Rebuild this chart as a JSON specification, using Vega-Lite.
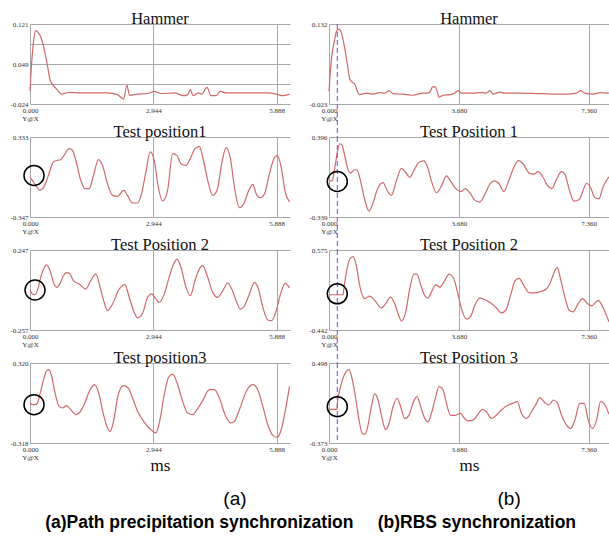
{
  "$schema": "https://vega.github.io/schema/vega-lite/v6.json",
  "padding": {"left": 9, "top": 10, "right": 0, "bottom": 2},
  "background": "white",
  "config": {
    "view": {"stroke": null},
    "axis": {"grid": true, "gridColor": "#a8a8a8", "gridWidth": 1, "domain": false, "ticks": false, "labelFont": "Liberation Serif", "labelFontSize": 7, "labelColor": "#333333", "labelPadding": 2, "labelLineHeight": 8, "title": null, "labelOverlap": false},
    "title": {"font": "Liberation Serif", "fontSize": 16.5, "fontWeight": "normal", "color": "#111111", "offset": -7},
    "line": {"color": "#d06a6a", "strokeWidth": 1.2, "interpolate": "monotone"}
  },
  "datasets": {
    "L1": [{"t":0,"v":0.000},{"t":0.032,"v":0.043},{"t":0.072,"v":0.080},{"t":0.136,"v":0.109},{"t":0.191,"v":0.106},{"t":0.255,"v":0.098},{"t":0.335,"v":0.077},{"t":0.415,"v":0.046},{"t":0.479,"v":0.020},{"t":0.558,"v":0.0096},{"t":0.654,"v":0.0016},{"t":0.750,"v":-0.006},{"t":0.933,"v":-0.003},{"t":1.213,"v":-0.004},{"t":1.532,"v":-0.004},{"t":1.851,"v":-0.004},{"t":2.090,"v":-0.007},{"t":2.234,"v":-0.015},{"t":2.314,"v":0.010},{"t":2.377,"v":-0.008},{"t":2.569,"v":-0.006},{"t":2.808,"v":-0.005},{"t":2.968,"v":-0.001},{"t":3.127,"v":-0.005},{"t":3.447,"v":-0.004},{"t":3.670,"v":-0.009},{"t":3.766,"v":-0.007},{"t":3.829,"v":0.002},{"t":3.893,"v":-0.009},{"t":4.021,"v":-0.004},{"t":4.101,"v":-0.006},{"t":4.228,"v":0.006},{"t":4.324,"v":-0.009},{"t":4.444,"v":-0.009},{"t":4.547,"v":-0.001},{"t":4.683,"v":-0.004},{"t":5.042,"v":-0.004},{"t":5.441,"v":-0.004},{"t":5.680,"v":-0.004},{"t":5.880,"v":-0.006},{"t":6.039,"v":-0.009},{"t":6.199,"v":-0.006}],
    "L2": [{"t":0,"v":-0.007},{"t":0.056,"v":-0.035},{"t":0.136,"v":-0.078},{"t":0.239,"v":-0.120},{"t":0.319,"v":-0.098},{"t":0.399,"v":-0.035},{"t":0.479,"v":0.050},{"t":0.558,"v":0.121},{"t":0.654,"v":0.135},{"t":0.734,"v":0.140},{"t":0.814,"v":0.177},{"t":0.933,"v":0.234},{"t":1.013,"v":0.220},{"t":1.093,"v":0.135},{"t":1.213,"v":-0.035},{"t":1.309,"v":-0.106},{"t":1.412,"v":-0.106},{"t":1.516,"v":0.007},{"t":1.636,"v":0.140},{"t":1.731,"v":0.092},{"t":1.851,"v":-0.064},{"t":1.971,"v":-0.163},{"t":2.090,"v":-0.171},{"t":2.234,"v":-0.120},{"t":2.329,"v":-0.163},{"t":2.449,"v":-0.228},{"t":2.569,"v":-0.228},{"t":2.665,"v":-0.149},{"t":2.768,"v":0.036},{"t":2.872,"v":0.206},{"t":2.968,"v":0.135},{"t":3.064,"v":-0.092},{"t":3.167,"v":-0.211},{"t":3.287,"v":-0.120},{"t":3.407,"v":0.191},{"t":3.510,"v":0.177},{"t":3.606,"v":0.106},{"t":3.726,"v":0.092},{"t":3.845,"v":0.163},{"t":3.941,"v":0.234},{"t":4.045,"v":0.254},{"t":4.125,"v":0.163},{"t":4.244,"v":-0.035},{"t":4.364,"v":-0.163},{"t":4.468,"v":-0.120},{"t":4.579,"v":0.106},{"t":4.683,"v":0.242},{"t":4.787,"v":0.149},{"t":4.883,"v":-0.092},{"t":5.002,"v":-0.268},{"t":5.106,"v":-0.234},{"t":5.226,"v":-0.120},{"t":5.321,"v":-0.069},{"t":5.401,"v":-0.149},{"t":5.505,"v":-0.183},{"t":5.601,"v":-0.149},{"t":5.721,"v":0.021},{"t":5.824,"v":0.149},{"t":5.904,"v":0.177},{"t":5.999,"v":0.078},{"t":6.095,"v":-0.134},{"t":6.199,"v":-0.219}],
    "L3": [{"t":0,"v":-0.005},{"t":0.056,"v":-0.030},{"t":0.112,"v":-0.034},{"t":0.176,"v":-0.009},{"t":0.255,"v":0.075},{"t":0.335,"v":0.134},{"t":0.399,"v":0.153},{"t":0.479,"v":0.117},{"t":0.574,"v":0.033},{"t":0.638,"v":0.012},{"t":0.718,"v":0.037},{"t":0.798,"v":0.085},{"t":0.878,"v":0.104},{"t":0.957,"v":0.096},{"t":1.037,"v":0.054},{"t":1.173,"v":0.033},{"t":1.332,"v":0.001},{"t":1.452,"v":0.054},{"t":1.572,"v":0.096},{"t":1.675,"v":0.012},{"t":1.771,"v":-0.083},{"t":1.851,"v":-0.135},{"t":1.971,"v":-0.093},{"t":2.130,"v":0.001},{"t":2.266,"v":0.029},{"t":2.370,"v":-0.051},{"t":2.473,"v":-0.135},{"t":2.569,"v":-0.181},{"t":2.689,"v":-0.152},{"t":2.808,"v":-0.051},{"t":2.904,"v":-0.030},{"t":3.008,"v":-0.062},{"t":3.088,"v":-0.083},{"t":3.207,"v":-0.030},{"t":3.327,"v":0.079},{"t":3.431,"v":0.159},{"t":3.510,"v":0.190},{"t":3.606,"v":0.138},{"t":3.726,"v":0.012},{"t":3.829,"v":-0.041},{"t":3.941,"v":0.054},{"t":4.045,"v":0.127},{"t":4.125,"v":0.148},{"t":4.244,"v":0.075},{"t":4.364,"v":-0.020},{"t":4.484,"v":-0.051},{"t":4.603,"v":-0.009},{"t":4.723,"v":0.039},{"t":4.819,"v":0.001},{"t":4.922,"v":-0.072},{"t":5.026,"v":-0.125},{"t":5.122,"v":-0.104},{"t":5.241,"v":-0.030},{"t":5.361,"v":0.043},{"t":5.457,"v":0.001},{"t":5.561,"v":-0.114},{"t":5.681,"v":-0.194},{"t":5.776,"v":-0.198},{"t":5.880,"v":-0.135},{"t":5.984,"v":-0.030},{"t":6.095,"v":0.037},{"t":6.199,"v":0.008}],
    "L4": [{"t":0,"v":0.001},{"t":0.056,"v":-0.012},{"t":0.112,"v":-0.012},{"t":0.176,"v":0.001},{"t":0.255,"v":0.094},{"t":0.335,"v":0.200},{"t":0.399,"v":0.259},{"t":0.455,"v":0.267},{"t":0.511,"v":0.222},{"t":0.590,"v":0.094},{"t":0.694,"v":-0.026},{"t":0.774,"v":-0.039},{"t":0.878,"v":-0.020},{"t":0.973,"v":-0.052},{"t":1.093,"v":-0.092},{"t":1.173,"v":-0.079},{"t":1.292,"v":-0.012},{"t":1.436,"v":0.107},{"t":1.548,"v":0.147},{"t":1.651,"v":0.067},{"t":1.755,"v":-0.092},{"t":1.851,"v":-0.198},{"t":1.915,"v":-0.225},{"t":1.995,"v":-0.145},{"t":2.106,"v":0.067},{"t":2.234,"v":0.139},{"t":2.346,"v":0.121},{"t":2.449,"v":0.041},{"t":2.569,"v":-0.065},{"t":2.713,"v":-0.145},{"t":2.888,"v":-0.212},{"t":3.008,"v":-0.238},{"t":3.088,"v":-0.158},{"t":3.207,"v":0.067},{"t":3.311,"v":0.206},{"t":3.407,"v":0.232},{"t":3.526,"v":0.147},{"t":3.646,"v":0.014},{"t":3.766,"v":-0.079},{"t":3.885,"v":-0.092},{"t":4.005,"v":-0.044},{"t":4.125,"v":0.020},{"t":4.284,"v":0.107},{"t":4.404,"v":0.107},{"t":4.523,"v":0.041},{"t":4.659,"v":-0.092},{"t":4.803,"v":-0.158},{"t":4.883,"v":-0.145},{"t":5.002,"v":-0.052},{"t":5.186,"v":0.107},{"t":5.322,"v":0.147},{"t":5.441,"v":0.107},{"t":5.561,"v":-0.026},{"t":5.681,"v":-0.172},{"t":5.800,"v":-0.257},{"t":5.904,"v":-0.273},{"t":6.000,"v":-0.212},{"t":6.095,"v":-0.065},{"t":6.199,"v":0.134}],
    "R1": [{"t":0,"v":0.0015},{"t":0.038,"v":0.040},{"t":0.095,"v":0.079},{"t":0.151,"v":0.098},{"t":0.208,"v":0.117},{"t":0.265,"v":0.122},{"t":0.322,"v":0.120},{"t":0.378,"v":0.108},{"t":0.454,"v":0.082},{"t":0.530,"v":0.050},{"t":0.587,"v":0.026},{"t":0.662,"v":0.019},{"t":0.728,"v":0.016},{"t":0.804,"v":0.0015},{"t":0.870,"v":-0.005},{"t":1.060,"v":-0.002},{"t":1.249,"v":-0.004},{"t":1.438,"v":-0.001},{"t":1.580,"v":-0.002},{"t":1.703,"v":0.003},{"t":1.816,"v":-0.003},{"t":2.100,"v":-0.004},{"t":2.384,"v":-0.006},{"t":2.668,"v":-0.002},{"t":2.810,"v":-0.002},{"t":2.876,"v":0.002},{"t":2.933,"v":0.010},{"t":3.008,"v":0.010},{"t":3.065,"v":0.002},{"t":3.122,"v":-0.010},{"t":3.235,"v":-0.006},{"t":3.425,"v":-0.005},{"t":3.566,"v":-0.002},{"t":3.661,"v":0.003},{"t":3.756,"v":-0.002},{"t":4.087,"v":-0.002},{"t":4.323,"v":-0.001},{"t":4.465,"v":-0.002},{"t":4.560,"v":0.003},{"t":4.654,"v":-0.004},{"t":4.844,"v":0.000},{"t":4.985,"v":-0.002},{"t":5.411,"v":-0.002},{"t":5.979,"v":-0.003},{"t":6.736,"v":-0.004},{"t":7.019,"v":-0.002},{"t":7.133,"v":0.003},{"t":7.256,"v":-0.002},{"t":7.492,"v":-0.004},{"t":7.681,"v":-0.001},{"t":7.937,"v":-0.002}],
    "R2": [{"t":0.019,"v":-0.007},{"t":0.095,"v":-0.007},{"t":0.132,"v":0.055},{"t":0.189,"v":0.163},{"t":0.246,"v":0.272},{"t":0.303,"v":0.334},{"t":0.359,"v":0.328},{"t":0.435,"v":0.241},{"t":0.520,"v":0.117},{"t":0.605,"v":0.064},{"t":0.728,"v":0.095},{"t":0.795,"v":0.095},{"t":0.870,"v":0.024},{"t":1.012,"v":-0.178},{"t":1.135,"v":-0.286},{"t":1.249,"v":-0.209},{"t":1.372,"v":-0.085},{"t":1.532,"v":-0.023},{"t":1.655,"v":-0.100},{"t":1.769,"v":-0.140},{"t":1.911,"v":-0.007},{"t":2.053,"v":0.108},{"t":2.176,"v":0.070},{"t":2.289,"v":0.024},{"t":2.403,"v":0.086},{"t":2.554,"v":0.163},{"t":2.687,"v":0.176},{"t":2.781,"v":0.132},{"t":2.904,"v":-0.007},{"t":3.046,"v":-0.116},{"t":3.188,"v":-0.054},{"t":3.330,"v":0.039},{"t":3.443,"v":-0.007},{"t":3.595,"v":-0.078},{"t":3.737,"v":-0.106},{"t":3.869,"v":-0.078},{"t":3.992,"v":-0.116},{"t":4.134,"v":-0.184},{"t":4.276,"v":-0.202},{"t":4.418,"v":-0.131},{"t":4.560,"v":-0.038},{"t":4.683,"v":-0.007},{"t":4.815,"v":-0.029},{"t":4.957,"v":-0.106},{"t":5.080,"v":-0.023},{"t":5.222,"v":0.101},{"t":5.373,"v":0.179},{"t":5.505,"v":0.148},{"t":5.676,"v":0.064},{"t":5.808,"v":0.055},{"t":5.931,"v":0.077},{"t":6.073,"v":0.024},{"t":6.187,"v":-0.047},{"t":6.319,"v":-0.078},{"t":6.452,"v":0.008},{"t":6.594,"v":0.077},{"t":6.688,"v":0.055},{"t":6.811,"v":-0.085},{"t":6.944,"v":-0.193},{"t":7.095,"v":-0.178},{"t":7.209,"v":-0.091},{"t":7.303,"v":-0.029},{"t":7.417,"v":-0.069},{"t":7.540,"v":-0.162},{"t":7.653,"v":-0.171},{"t":7.776,"v":-0.060},{"t":7.937,"v":0.030}],
    "R3": [{"t":0,"v":0.006},{"t":0.397,"v":0.006},{"t":0.416,"v":0.060},{"t":0.492,"v":0.290},{"t":0.587,"v":0.458},{"t":0.681,"v":0.491},{"t":0.776,"v":0.374},{"t":0.870,"v":0.123},{"t":1.012,"v":-0.044},{"t":1.154,"v":-0.011},{"t":1.296,"v":-0.065},{"t":1.485,"v":-0.162},{"t":1.608,"v":-0.107},{"t":1.741,"v":-0.023},{"t":1.864,"v":-0.107},{"t":1.958,"v":-0.233},{"t":2.053,"v":-0.329},{"t":2.176,"v":-0.212},{"t":2.289,"v":0.081},{"t":2.412,"v":0.269},{"t":2.497,"v":0.269},{"t":2.592,"v":0.144},{"t":2.715,"v":-0.003},{"t":2.809,"v":-0.036},{"t":2.904,"v":0.039},{"t":3.027,"v":0.131},{"t":3.140,"v":0.102},{"t":3.254,"v":0.165},{"t":3.406,"v":0.269},{"t":3.519,"v":0.228},{"t":3.633,"v":0.060},{"t":3.756,"v":-0.170},{"t":3.898,"v":-0.304},{"t":4.011,"v":-0.275},{"t":4.134,"v":-0.128},{"t":4.276,"v":-0.036},{"t":4.418,"v":-0.057},{"t":4.579,"v":-0.095},{"t":4.749,"v":-0.162},{"t":4.891,"v":-0.224},{"t":5.014,"v":-0.191},{"t":5.146,"v":-0.003},{"t":5.279,"v":0.186},{"t":5.392,"v":0.215},{"t":5.525,"v":0.123},{"t":5.676,"v":0.031},{"t":5.837,"v":0.031},{"t":5.998,"v":0.048},{"t":6.149,"v":0.073},{"t":6.281,"v":0.165},{"t":6.404,"v":0.311},{"t":6.470,"v":0.353},{"t":6.565,"v":0.207},{"t":6.688,"v":-0.023},{"t":6.811,"v":-0.191},{"t":6.925,"v":-0.212},{"t":7.048,"v":-0.120},{"t":7.190,"v":-0.044},{"t":7.303,"v":-0.095},{"t":7.445,"v":-0.136},{"t":7.634,"v":-0.065},{"t":7.776,"v":-0.162},{"t":7.937,"v":-0.337}],
    "R4": [{"t":0,"v":-0.007},{"t":0.227,"v":-0.007},{"t":0.246,"v":0.095},{"t":0.303,"v":0.198},{"t":0.397,"v":0.333},{"t":0.492,"v":0.407},{"t":0.568,"v":0.425},{"t":0.662,"v":0.315},{"t":0.757,"v":0.114},{"t":0.851,"v":-0.124},{"t":0.946,"v":-0.271},{"t":1.022,"v":-0.278},{"t":1.107,"v":-0.179},{"t":1.201,"v":0.022},{"t":1.296,"v":0.161},{"t":1.391,"v":0.095},{"t":1.485,"v":-0.069},{"t":1.608,"v":-0.227},{"t":1.703,"v":-0.161},{"t":1.816,"v":0.022},{"t":1.930,"v":0.114},{"t":2.034,"v":0.022},{"t":2.147,"v":-0.106},{"t":2.270,"v":-0.069},{"t":2.384,"v":0.066},{"t":2.497,"v":0.132},{"t":2.601,"v":0.022},{"t":2.715,"v":-0.106},{"t":2.809,"v":-0.143},{"t":2.904,"v":-0.051},{"t":3.027,"v":0.132},{"t":3.122,"v":0.242},{"t":3.235,"v":0.205},{"t":3.330,"v":0.059},{"t":3.443,"v":-0.069},{"t":3.566,"v":-0.073},{"t":3.727,"v":-0.051},{"t":3.822,"v":-0.095},{"t":3.945,"v":-0.132},{"t":4.087,"v":-0.124},{"t":4.200,"v":-0.073},{"t":4.352,"v":-0.007},{"t":4.465,"v":-0.033},{"t":4.607,"v":-0.106},{"t":4.749,"v":-0.069},{"t":4.891,"v":-0.014},{"t":5.033,"v":0.030},{"t":5.203,"v":0.059},{"t":5.335,"v":0.077},{"t":5.458,"v":-0.051},{"t":5.600,"v":-0.106},{"t":5.742,"v":-0.033},{"t":5.884,"v":0.059},{"t":5.979,"v":0.121},{"t":6.120,"v":0.066},{"t":6.243,"v":0.041},{"t":6.357,"v":0.095},{"t":6.471,"v":0.066},{"t":6.594,"v":-0.069},{"t":6.736,"v":-0.179},{"t":6.849,"v":-0.216},{"t":6.972,"v":-0.124},{"t":7.114,"v":0.059},{"t":7.237,"v":0.059},{"t":7.351,"v":-0.124},{"t":7.474,"v":-0.216},{"t":7.587,"v":-0.124},{"t":7.700,"v":0.077},{"t":7.795,"v":0.059},{"t":7.937,"v":-0.058}],
    "CL2": [{"t":0.096,"v":0.006}],
    "CL3": [{"t":0.12,"v":-0.005}],
    "CL4": [{"t":0.096,"v":-0.012}],
    "CR2": [{"t":0.235,"v":-0.013}],
    "CR3": [{"t":0.235,"v":0.018}],
    "CR4": [{"t":0.235,"v":0.022}],
    "S1": [{"t":0.236,"top":0.132,"bottom":-0.087}],
    "S2": [{"t":0.236,"top":0.396,"bottom":-0.642}],
    "S3": [{"t":0.236,"top":0.575,"bottom":-0.861}],
    "S4": [{"t":0.236,"top":0.498,"bottom":-0.373}]
  },
  "title": {"text": "(a)Path precipitation synchronization\u00a0\u00a0\u00a0\u00a0\u00a0(b)RBS synchronization", "orient": "bottom", "anchor": "middle", "font": "Liberation Sans", "fontSize": 17.5, "fontWeight": "bold", "color": "#000000", "offset": 5},
  "bounds": "full",
  "spacing": 16,
  "hconcat": [
    {
      "bounds": "flush",
      "spacing": 33,
      "title": {"text": "(a)", "orient": "bottom", "anchor": "middle", "dx": 84, "font": "Liberation Sans", "fontSize": 19, "fontWeight": "normal", "color": "#000000", "offset": 17},
      "vconcat": [
        {
          "title": "Hammer", "width": 260, "height": 80,
          "layer": [
            {"data": {"name": "L1"}, "mark": "line",
             "encoding": {
               "x": {"field": "t", "type": "quantitative", "scale": {"domain": [0, 6.21], "nice": false}, "axis": {"values": [0, 2.944, 5.888], "labelFlush": false, "labelExpr": "datum.value == 0 ? ['0.000','Y@X'] : format(datum.value, '.3f')"}},
               "y": {"field": "v", "type": "quantitative", "scale": {"domain": [-0.024, 0.121], "nice": false, "zero": false}, "axis": {"values": [-0.024, 0.01225, 0.0485, 0.08475, 0.121], "labelExpr": "datum.index == 0 ? '-0.024' : datum.index == 0.5 ? '0.049' : datum.index == 1 ? '0.121' : ''"}}
             }}
          ]
        },
        {
          "title": "Test position1", "width": 260, "height": 80,
          "layer": [
            {"data": {"name": "L2"}, "mark": "line",
             "encoding": {
               "x": {"field": "t", "type": "quantitative", "scale": {"domain": [0, 6.21], "nice": false}, "axis": {"values": [0, 2.944, 5.888], "labelFlush": false, "labelExpr": "datum.value == 0 ? ['0.000','Y@X'] : format(datum.value, '.3f')"}},
               "y": {"field": "v", "type": "quantitative", "scale": {"domain": [-0.347, 0.333], "nice": false, "zero": false}, "axis": {"values": [-0.347, -0.177, -0.007, 0.163, 0.333], "labelExpr": "datum.index == 0 ? '-0.347' : datum.index == 0.5 ? '-0.007' : datum.index == 1 ? '0.333' : ''"}}
             }},
            {"data": {"name": "CL2"}, "mark": {"type": "point", "shape": "circle", "size": 400, "filled": false, "stroke": "#000000", "strokeWidth": 1.5, "opacity": 1},
             "encoding": {"x": {"field": "t", "type": "quantitative"}, "y": {"field": "v", "type": "quantitative"}}}
          ]
        },
        {
          "title": "Test Position 2", "width": 260, "height": 80,
          "layer": [
            {"data": {"name": "L3"}, "mark": "line",
             "encoding": {
               "x": {"field": "t", "type": "quantitative", "scale": {"domain": [0, 6.21], "nice": false}, "axis": {"values": [0, 2.944, 5.888], "labelFlush": false, "labelExpr": "datum.value == 0 ? ['0.000','Y@X'] : format(datum.value, '.3f')"}},
               "y": {"field": "v", "type": "quantitative", "scale": {"domain": [-0.257, 0.247], "nice": false, "zero": false}, "axis": {"values": [-0.257, -0.131, -0.005, 0.121, 0.247], "labelExpr": "datum.index == 0 ? '-0.257' : datum.index == 0.5 ? '-0.005' : datum.index == 1 ? '0.247' : ''"}}
             }},
            {"data": {"name": "CL3"}, "mark": {"type": "point", "shape": "circle", "size": 400, "filled": false, "stroke": "#000000", "strokeWidth": 1.5, "opacity": 1},
             "encoding": {"x": {"field": "t", "type": "quantitative"}, "y": {"field": "v", "type": "quantitative"}}}
          ]
        },
        {
          "title": "Test position3", "width": 260, "height": 80,
          "layer": [
            {"data": {"name": "L4"}, "mark": "line",
             "encoding": {
               "x": {"field": "t", "type": "quantitative", "scale": {"domain": [0, 6.21], "nice": false}, "axis": {"values": [0, 2.944, 5.888], "labelFlush": false, "labelExpr": "datum.value == 0 ? ['0.000','Y@X'] : format(datum.value, '.3f')", "title": "ms", "titleFont": "Liberation Serif", "titleFontSize": 17, "titleFontWeight": "normal", "titleColor": "#111111", "titlePadding": -3}},
               "y": {"field": "v", "type": "quantitative", "scale": {"domain": [-0.318, 0.320], "nice": false, "zero": false}, "axis": {"values": [-0.318, -0.1585, 0.001, 0.1605, 0.320], "labelExpr": "datum.index == 0 ? '-0.318' : datum.index == 0.5 ? '0.001' : datum.index == 1 ? '0.320' : ''"}}
             }},
            {"data": {"name": "CL4"}, "mark": {"type": "point", "shape": "circle", "size": 400, "filled": false, "stroke": "#000000", "strokeWidth": 1.5, "opacity": 1},
             "encoding": {"x": {"field": "t", "type": "quantitative"}, "y": {"field": "v", "type": "quantitative"}}}
          ]
        }
      ]
    },
    {
      "bounds": "flush",
      "spacing": 33,
      "title": {"text": "(b)", "orient": "bottom", "anchor": "middle", "dx": 49, "font": "Liberation Sans", "fontSize": 19, "fontWeight": "normal", "color": "#000000", "offset": 17},
      "vconcat": [
        {
          "title": "Hammer", "width": 280, "height": 80,
          "layer": [
            {"data": {"name": "R1"}, "mark": "line",
             "encoding": {
               "x": {"field": "t", "type": "quantitative", "scale": {"domain": [0, 7.94], "nice": false}, "axis": {"values": [0, 3.68, 7.36], "labelFlush": false, "labelExpr": "datum.value == 0 ? ['0.000','Y@X'] : format(datum.value, '.3f')"}},
               "y": {"field": "v", "type": "quantitative", "scale": {"domain": [-0.023, 0.132], "nice": false, "zero": false}, "axis": {"values": [-0.023, 0.01575, 0.0545, 0.09325, 0.132], "labelExpr": "datum.index == 0 ? '-0.023' : datum.index == 0.5 ? '0.055' : datum.index == 1 ? '0.132' : ''"}}
             }},
            {"data": {"name": "S1"}, "mark": {"type": "rule", "color": "#8259d6", "strokeDash": [5, 3], "strokeWidth": 1.1},
             "encoding": {"x": {"field": "t", "type": "quantitative"}, "y": {"field": "top", "type": "quantitative"}, "y2": {"field": "bottom"}}}
          ]
        },
        {
          "title": "Test Position 1", "width": 280, "height": 80,
          "layer": [
            {"data": {"name": "R2"}, "mark": "line",
             "encoding": {
               "x": {"field": "t", "type": "quantitative", "scale": {"domain": [0, 7.94], "nice": false}, "axis": {"values": [0, 3.68, 7.36], "labelFlush": false, "labelExpr": "datum.value == 0 ? ['0.000','Y@X'] : format(datum.value, '.3f')"}},
               "y": {"field": "v", "type": "quantitative", "scale": {"domain": [-0.339, 0.396], "nice": false, "zero": false}, "axis": {"values": [-0.339, -0.15525, 0.0285, 0.21225, 0.396], "labelExpr": "datum.index == 0 ? '-0.339' : datum.index == 0.5 ? '0.029' : datum.index == 1 ? '0.396' : ''"}}
             }},
            {"data": {"name": "S2"}, "mark": {"type": "rule", "color": "#8259d6", "strokeDash": [5, 3], "strokeWidth": 1.1},
             "encoding": {"x": {"field": "t", "type": "quantitative"}, "y": {"field": "top", "type": "quantitative"}, "y2": {"field": "bottom"}}},
            {"data": {"name": "CR2"}, "mark": {"type": "point", "shape": "circle", "size": 400, "filled": false, "stroke": "#000000", "strokeWidth": 1.5, "opacity": 1},
             "encoding": {"x": {"field": "t", "type": "quantitative"}, "y": {"field": "v", "type": "quantitative"}}}
          ]
        },
        {
          "title": "Test Position 2", "width": 280, "height": 80,
          "layer": [
            {"data": {"name": "R3"}, "mark": "line",
             "encoding": {
               "x": {"field": "t", "type": "quantitative", "scale": {"domain": [0, 7.94], "nice": false}, "axis": {"values": [0, 3.68, 7.36], "labelFlush": false, "labelExpr": "datum.value == 0 ? ['0.000','Y@X'] : format(datum.value, '.3f')"}},
               "y": {"field": "v", "type": "quantitative", "scale": {"domain": [-0.442, 0.575], "nice": false, "zero": false}, "axis": {"values": [-0.442, -0.18775, 0.0665, 0.32075, 0.575], "labelExpr": "datum.index == 0 ? '-0.442' : datum.index == 0.5 ? '0.066' : datum.index == 1 ? '0.575' : ''"}}
             }},
            {"data": {"name": "S3"}, "mark": {"type": "rule", "color": "#8259d6", "strokeDash": [5, 3], "strokeWidth": 1.1},
             "encoding": {"x": {"field": "t", "type": "quantitative"}, "y": {"field": "top", "type": "quantitative"}, "y2": {"field": "bottom"}}},
            {"data": {"name": "CR3"}, "mark": {"type": "point", "shape": "circle", "size": 400, "filled": false, "stroke": "#000000", "strokeWidth": 1.5, "opacity": 1},
             "encoding": {"x": {"field": "t", "type": "quantitative"}, "y": {"field": "v", "type": "quantitative"}}}
          ]
        },
        {
          "title": "Test Position 3", "width": 280, "height": 80,
          "layer": [
            {"data": {"name": "R4"}, "mark": "line",
             "encoding": {
               "x": {"field": "t", "type": "quantitative", "scale": {"domain": [0, 7.94], "nice": false}, "axis": {"values": [0, 3.68, 7.36], "labelFlush": false, "labelExpr": "datum.value == 0 ? ['0.000','Y@X'] : format(datum.value, '.3f')", "title": "ms", "titleFont": "Liberation Serif", "titleFontSize": 17, "titleFontWeight": "normal", "titleColor": "#111111", "titlePadding": -3}},
               "y": {"field": "v", "type": "quantitative", "scale": {"domain": [-0.373, 0.498], "nice": false, "zero": false}, "axis": {"values": [-0.373, -0.15525, 0.0625, 0.28025, 0.498], "labelExpr": "datum.index == 0 ? '-0.373' : datum.index == 0.5 ? '0.063' : datum.index == 1 ? '0.498' : ''"}}
             }},
            {"data": {"name": "S4"}, "mark": {"type": "rule", "color": "#8259d6", "strokeDash": [5, 3], "strokeWidth": 1.1},
             "encoding": {"x": {"field": "t", "type": "quantitative"}, "y": {"field": "top", "type": "quantitative"}, "y2": {"field": "bottom"}}},
            {"data": {"name": "CR4"}, "mark": {"type": "point", "shape": "circle", "size": 400, "filled": false, "stroke": "#000000", "strokeWidth": 1.5, "opacity": 1},
             "encoding": {"x": {"field": "t", "type": "quantitative"}, "y": {"field": "v", "type": "quantitative"}}}
          ]
        }
      ]
    }
  ]
}
